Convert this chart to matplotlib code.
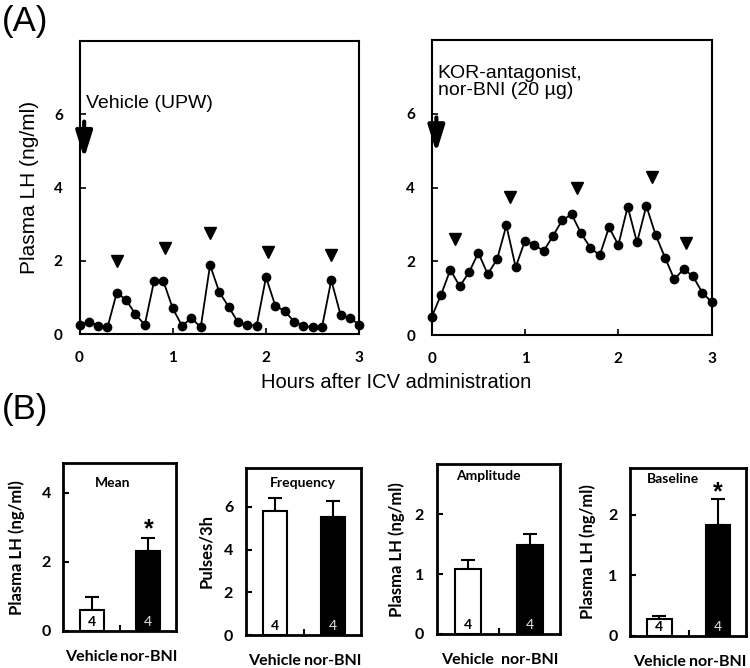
import matplotlib.pyplot as plt
import numpy as np

# (A) LH profiles, sampled every 6 min for 3 h
hours = np.arange(31) / 10
lh_vehicle = [0.25, 0.34, 0.23, 0.18, 1.13, 0.93, 0.54, 0.25, 1.45, 1.44,
              0.70, 0.22, 0.44, 0.18, 1.88, 1.14, 0.74, 0.32, 0.25, 0.23,
              1.55, 0.77, 0.63, 0.34, 0.23, 0.18, 0.18, 1.47, 0.52, 0.44, 0.25]
lh_norbni = [0.49, 1.09, 1.77, 1.32, 1.70, 2.23, 1.65, 2.05, 2.97, 1.84,
             2.56, 2.44, 2.28, 2.69, 3.12, 3.27, 2.76, 2.37, 2.16, 2.92,
             2.44, 3.48, 2.51, 3.50, 2.71, 2.10, 1.51, 1.79, 1.59, 1.15, 0.89]
pulse_x_vehicle = [0.40, 0.92, 1.40, 2.02, 2.70]
pulse_y_vehicle = [2.00, 2.35, 2.77, 2.23, 2.16]
pulse_x_norbni = [0.25, 0.84, 1.56, 2.36, 2.73]
pulse_y_norbni = [2.60, 3.75, 4.00, 4.29, 2.50]

# (B) pulse parameters, vehicle vs nor-BNI
groups = ["Vehicle", "nor-BNI"]
n_animals = [4, 4]
mean_val = [0.61, 2.32]
mean_err = [0.37, 0.37]
freq_val = [5.80, 5.53]
freq_err = [0.59, 0.72]
amp_val = [1.08, 1.48]
amp_err = [0.16, 0.18]
base_val = [0.28, 1.83]
base_err = [0.05, 0.43]

ARIAL = "Liberation Sans"
CAL = "Lato"

fig = plt.figure(figsize=(7.5, 6.68), dpi=100)


def line_panel(rect, y, px, py, label, label_y, arrow_y, ylabel=None):
    ax = fig.add_axes(rect)
    ax.plot(hours, y, "-o", color="black", ms=6, lw=1.3, clip_on=False, zorder=3)
    ax.plot(px, py, "v", color="black", ms=8, clip_on=False)
    ax.set_xlim(0, 3)
    ax.set_ylim(0, 8)
    ax.set_xticks([0, 1, 2, 3])
    ax.set_yticks([0, 2, 4, 6])
    ax.tick_params(direction="in", length=4, width=1.2, pad=12, labelsize=11)
    ax.tick_params(axis="x", pad=12)
    for t in ax.get_xticklabels() + ax.get_yticklabels():
        t.set_fontfamily(CAL)
        t.set_fontweight("bold")
    for s in ax.spines.values():
        s.set_linewidth(1.5)
    ax.annotate("", xy=(0.05, arrow_y[1]), xytext=(0.05, arrow_y[0]),
                arrowprops=dict(arrowstyle="-|>,head_width=0.5,head_length=1.6",
                                lw=3, color="black", shrinkA=0, shrinkB=0))
    ax.text(0.065, label_y, label, fontsize=14, family=ARIAL, va="center",
            linespacing=1.0)
    if ylabel:
        ax.set_ylabel(ylabel, fontsize=15, family=ARIAL)
        ax.yaxis.set_label_coords(-0.145, 0.5)
    return ax


line_panel([0.106, 0.5, 0.373, 0.4386], lh_vehicle, pulse_x_vehicle, pulse_y_vehicle,
           "Vehicle (UPW)", 6.3, (5.8, 4.8), "Plasma LH (ng/ml)")
line_panel([0.5756, 0.4985, 0.3733, 0.4416], lh_norbni, pulse_x_norbni, pulse_y_norbni,
           "KOR-antagonist,\nnor-BNI (20 µg)", 6.85, (5.9, 4.95))

fig.text(396 / 750, 1 - 383 / 668, "Hours after ICV administration",
         ha="center", va="center", fontsize=14.5, family=ARIAL)
fig.text(0.002, 1 - 22 / 668, "(A)", fontsize=25, family=ARIAL, va="center")
fig.text(0.002, 1 - 410 / 668, "(B)", fontsize=25, family=ARIAL, va="center")


def bar_panel(rect, vals, errs, title, title_xy, ymax, yticks, ylabel, label_x,
              star_y=None):
    ax = fig.add_axes(rect)
    x = np.arange(len(groups))
    ax.bar(x, vals, width=0.42, color=["white", "black"], edgecolor="black",
           linewidth=1.5, zorder=2)
    ax.errorbar(x, vals, yerr=[[0] * len(errs), errs], fmt="none", ecolor="black",
                elinewidth=1.5, capsize=5, capthick=1.5, zorder=1)
    ax.set_xlim(-0.5, 1.48)
    ax.set_ylim(0, ymax)
    ax.set_yticks(yticks)
    ax.set_xticks(x)
    ax.set_xticklabels(groups)
    ax.set_xticks([0.5], minor=True)
    ax.tick_params(axis="x", which="major", length=0, pad=14)
    ax.tick_params(axis="x", which="minor", direction="in", length=4, width=1.5)
    ax.tick_params(axis="y", direction="in", length=4, width=1.5, pad=9)
    for t in ax.get_xticklabels() + ax.get_yticklabels():
        t.set_fontfamily(CAL)
        t.set_fontweight("bold")
        t.set_fontsize(11.5)
    for s in ax.spines.values():
        s.set_linewidth(2)
    for i, n in enumerate(n_animals):
        ax.annotate(str(n), xy=(i, 0), xytext=(0, 2), textcoords="offset points",
                    ha="center", va="bottom", fontsize=10, family=CAL,
                    color="black" if i == 0 else "#e0e0e0",
                    fontweight="bold" if i == 0 else "normal")
    ax.text(title_xy[0], title_xy[1], title, transform=ax.transAxes, ha="center",
            va="center", fontsize=10, family=CAL, fontweight="bold")
    if star_y is not None:
        ax.text(1, star_y, "*", ha="center", va="center", fontsize=18,
                fontweight="bold", family=ARIAL)
    ax.set_ylabel(ylabel, fontsize=12, family=CAL, fontweight="bold")
    ax.yaxis.set_label_coords(label_x, 0.5)
    return ax


bar_panel([0.0844, 0.0554, 0.1497, 0.251], mean_val, mean_err, "Mean", (0.44, 0.88),
          4.86, [0, 2, 4], "Plasma LH (ng/ml)", -0.34, star_y=2.95)
bar_panel([0.3276, 0.0494, 0.1537, 0.2504], freq_val, freq_err, "Frequency", (0.50, 0.91),
          7.83, [0, 2, 4, 6], "Pulses/3h", -0.27)
bar_panel([0.5823, 0.0509, 0.1644, 0.254], amp_val, amp_err, "Amplitude", (0.42, 0.93),
          2.83, [0, 1, 2], "Plasma LH (ng/ml)", -0.26)
bar_panel([0.84, 0.0484, 0.1547, 0.2515], base_val, base_err, "Baseline", (0.37, 0.93),
          2.78, [0, 1, 2], "Plasma LH (ng/ml)", -0.29, star_y=2.38)

fig.savefig("out.png", dpi=100)
